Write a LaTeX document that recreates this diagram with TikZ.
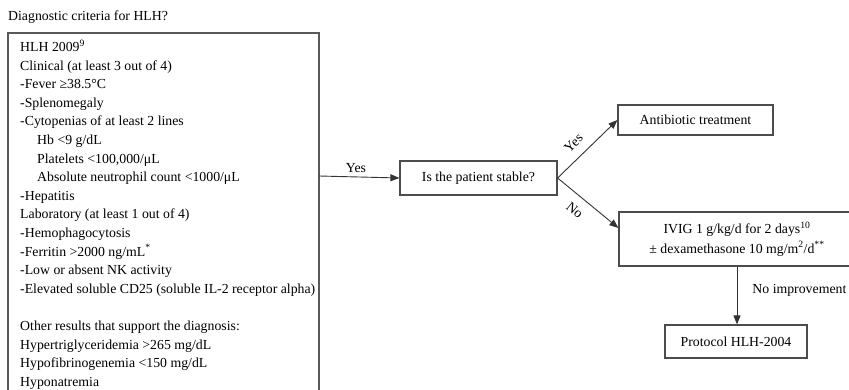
\documentclass[tikz,border=0pt]{standalone}
\usepackage{fontspec}
\setmainfont{Liberation Serif}
\usetikzlibrary{arrows.meta}
\begin{document}
\begin{tikzpicture}[x=1pt,y=-1pt,
  every node/.style={font=\fontsize{13.8}{18.6}\selectfont, text=black},
  box/.style={draw=black!70, line width=1.2pt, inner sep=0pt},
  conn/.style={draw=black!80, line width=0.9pt, -{Triangle[length=9pt,width=7pt]}},
  lbl/.style={inner sep=1pt},
  critline/.style={anchor=base west, inner sep=0pt}]
\useasboundingbox (0,0) rectangle (849,390);
% title
\node[critline] (title) at (8,21) {Diagnostic criteria for HLH?};
% criteria box (continues below the picture)
\draw[draw=black!65, line width=1.2pt] (8,395) -- (8,33) -- (319,33) -- (319,395);
\coordinate (critE) at (319,176);
\foreach \t [count=\i from 0] in {
  {HLH 2009\textsuperscript{9}},
  {Clinical (at least 3 out of 4)},
  {-Fever ≥38.5°C},
  {-Splenomegaly},
  {-Cytopenias of at least 2 lines},
  {\hspace*{17pt}Hb <9 g/dL},
  {\hspace*{17pt}Platelets <100,000/μL},
  {\hspace*{17pt}Absolute neutrophil count <1000/μL},
  {-Hepatitis},
  {Laboratory (at least 1 out of 4)},
  {-Hemophagocytosis},
  {-Ferritin >2000 ng/mL\textsuperscript{*}},
  {-Low or absent NK activity},
  {-Elevated soluble CD25 (soluble IL-2 receptor alpha)},
  {},
  {Other results that support the diagnosis:},
  {Hypertriglyceridemia >265 mg/dL},
  {Hypofibrinogenemia <150 mg/dL},
  {Hyponatremia}}
  \node[critline] (L\i) at (20,{51.5+18.61*\i}) {\t};
% flow boxes
\node[box, minimum width=157pt, minimum height=34pt] (stable) at (478.5,178) {Is the patient stable?};
\node[box, minimum width=155pt, minimum height=30pt] (anti) at (695.5,120) {Antibiotic treatment};
\node[box, minimum width=236pt, minimum height=54pt, align=center] (ivig) at (737,239)
  {IVIG 1 g/kg/d for 2 days\textsuperscript{10}\\[1pt] ± dexamethasone 10 mg/m\textsuperscript{2}/d\textsuperscript{**}};
\node[box, minimum width=142pt, minimum height=33pt] (proto) at (736,341.5) {Protocol HLH-2004};
% connectors
\draw[conn] (critE) -- node[lbl, above=3pt, pos=0.46] (yes1) {Yes} (stable.west);
\draw[conn] (stable.east) -- node[lbl, sloped, above=8pt, pos=0.43] (yes2) {Yes} (anti.west);
\draw[conn] (stable.east) -- node[lbl, sloped, below=8pt, pos=0.43] (no1) {No} ([yshift=11pt]ivig.west);
\draw[conn] (ivig.south) -- node[lbl, anchor=west, xshift=14pt, pos=0.42] (noimp) {No improvement} (ivig.south |- proto.north);
\end{tikzpicture}
\end{document}
